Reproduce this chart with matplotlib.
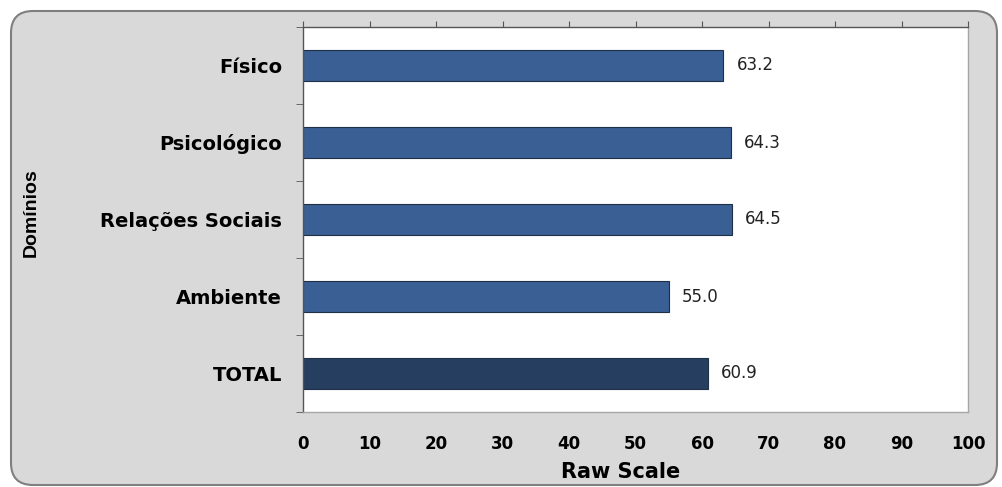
import matplotlib.pyplot as plt
from matplotlib.patches import FancyBboxPatch

# domains and their raw scale scores
categories = ['Físico', 'Psicológico', 'Relações Sociais', 'Ambiente', 'TOTAL']
scores = [63.2, 64.3, 64.5, 55.0, 60.9]
bar_colors = ['#3a5f94', '#3a5f94', '#3a5f94', '#3a5f94', '#263f60']
xticks = [0, 10, 20, 30, 40, 50, 60, 70, 80, 90, 100]

plt.rcParams['font.family'] = ['DejaVu Sans']

fig = plt.figure(figsize=(10.02, 4.87), dpi=100)
fig.patch.set_facecolor('white')

# rounded grey frame behind everything (figure coords, origin bottom-left)
W, H = 1002, 487
frame = FancyBboxPatch((11 / W, 2 / H), 986 / W, 474 / H,
                       boxstyle='round,pad=0,rounding_size=0.022',
                       transform=fig.transFigure, facecolor='#d9d9d9',
                       edgecolor='#7f7f7f', linewidth=1.5,
                       mutation_aspect=W / H, zorder=-5)
fig.patches.append(frame)

ax = fig.add_axes([303 / W, 1 - 412 / H, 665 / W, 385 / H])
ax.set_facecolor('white')

y = list(range(len(categories)))
ax.barh(y, scores, height=0.4, color=bar_colors, edgecolor='#1f2f45', linewidth=0.8)

for yi, v in zip(y, scores):
    ax.text(v + 2, yi, f'{v:.1f}', va='center', ha='left', fontsize=12, color='#222222')

ax.set_xlim(0, 100)
ax.set_ylim(len(categories) - 0.5, -0.5)

ax.set_xticks(xticks)
ax.set_xticklabels([str(t) for t in xticks], fontsize=12, fontweight='bold')
ax.tick_params(axis='x', top=True, bottom=False, labeltop=False, labelbottom=True,
               direction='out', length=4, color='#555555', pad=12.5)

ax.set_yticks(y)
ax.set_yticklabels(categories, fontsize=14, fontweight='bold')
ax.set_yticks([i + 0.5 for i in range(-1, len(categories))], minor=True)
ax.tick_params(axis='y', which='major', length=0, pad=15)
ax.tick_params(axis='y', which='minor', length=5, direction='out', color='#555555')

for side in ['left', 'top']:
    ax.spines[side].set_color('#555555')
    ax.spines[side].set_linewidth(1.0)
for side in ['right', 'bottom']:
    ax.spines[side].set_color('#a6a6a6')
    ax.spines[side].set_linewidth(1.0)

ax.set_xlabel('Raw Scale', fontsize=15, fontweight='bold')
ax.xaxis.set_label_coords(0.477, -0.13)
fig.text(31 / W, 1 - 213 / H, 'Domínios', rotation=90, ha='center', va='center',
         fontsize=14, fontweight='bold', family=['Liberation Sans', 'DejaVu Sans'])

fig.savefig('out.png', dpi=100)
